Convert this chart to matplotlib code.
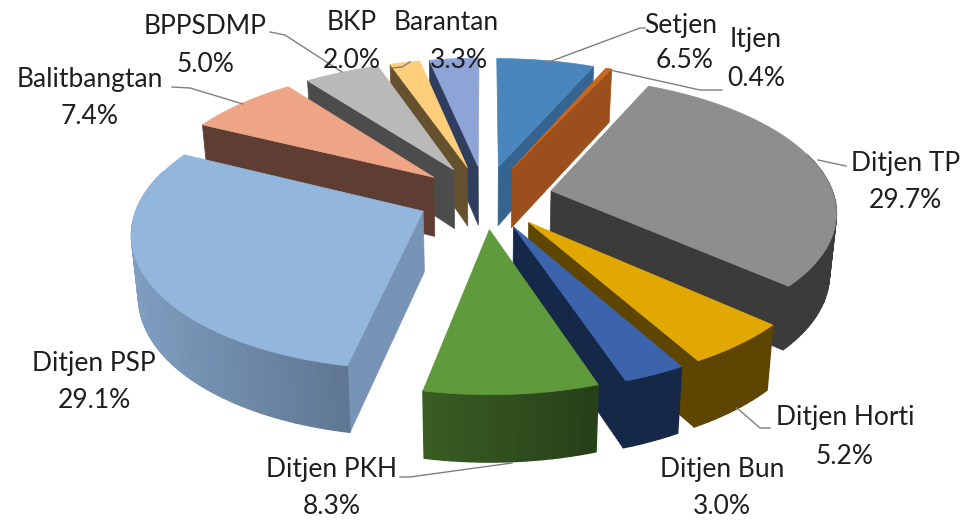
import numpy as np
import matplotlib
matplotlib.use("Agg")
import matplotlib.pyplot as plt
from matplotlib.colors import to_rgb
from matplotlib.patches import Polygon

names = ["Setjen", "Itjen", "Ditjen TP", "Ditjen Horti", "Ditjen Bun", "Ditjen PKH",
         "Ditjen PSP", "Balitbangtan", "BPPSDMP", "BKP", "Barantan"]
values = [6.5, 0.4, 29.7, 5.2, 3.0, 8.3, 29.1, 7.4, 5.0, 2.0, 3.3]

top_colors = ["#4A86BC", "#C8661E", "#8E8E8E", "#E0A800", "#3B64AD", "#5F9A3C",
              "#93B6DC", "#EEA585", "#B9B9B9", "#FFCE7A", "#8EA3D6"]
radial_colors = ["#34648F", "#9A4F1C", "#3B3B3B", "#5E4600", "#152847", "#3A5E22",
                 "#7793B5", "#5E3E32", "#4C4C4C", "#66512F", "#2F3E5E"]
outer_left = ["#34648F", "#9A4F1C", "#3B3B3B", "#5E4600", "#152847", "#28401A",
              "#5F7792", "#5E3E32", "#4C4C4C", "#66512F", "#2F3E5E"]
outer_right = ["#34648F", "#9A4F1C", "#3B3B3B", "#5E4600", "#152847", "#3A5E22",
               "#7F9EC0", "#5E3E32", "#4C4C4C", "#66512F", "#2F3E5E"]

# name label centre, value label centre
name_pos = [(681, 25), (756, 40), (906, 163), (845, 418), (722, 469), (332, 469),
            (94, 363), (90, 80), (205, 27), (352, 22), (446, 22)]
value_pos = [(685, 60), (756, 78), (905, 200), (845, 456), (722, 507), (332, 506),
             (94, 401), (90, 117), (205, 64), (352, 60), (459, 60)]
leaders = [[(546, 63), (640, 28), (645, 28)],
           [(610, 70), (700, 90), (722, 90)],
           [(818, 160), (846, 166)],
           [(737, 408), (760, 428), (770, 428)],
           [(512, 463), (410, 477), (400, 477)],
           [],
           [(243, 104), (190, 88), (172, 87)],
           [(342, 72), (285, 35), (270, 32)],
           [(392, 68), (402, 67), (410, 62)],
           []]

CX, CY, RX, RY, K, EXPLODE, DEPTH = 485, 197, 283, 131.6, 0.141, 0.24, 60


def project(u, v):
    s = 1 / (1 + K * v)
    return CX + RX * u * s, CY - RY * v * s


def lower(x, y, v):
    d = DEPTH * (1 - 0.1 * v)
    return CX + (x - CX) * 0.98, y + d


fig = plt.figure(figsize=(9.63, 5.21), dpi=100)
ax = fig.add_axes([0, 0, 1, 1])
ax.set_xlim(0, 963)
ax.set_ylim(521, 0)
ax.axis("off")

edges = np.concatenate([[0], np.cumsum(values)]) / np.sum(values) * 2 * np.pi
mids = (edges[:-1] + edges[1:]) / 2
order = np.argsort(-np.cos(mids))

for i in order:
    t0, t1 = edges[i], edges[i + 1]
    du, dv = EXPLODE * np.sin(mids[i]), EXPLODE * np.cos(mids[i])
    ts = np.linspace(t0, t1, max(6, int((t1 - t0) * 40)))
    us, vs = du + np.sin(ts), dv + np.cos(ts)
    xs, ys = project(us, vs)
    bx, by = lower(xs, ys, vs)
    ax_, ay_ = project(du, dv)
    abx, aby = lower(ax_, ay_, dv)

    def radial(px, py, pbx, pby):
        ax.add_patch(Polygon([(ax_, ay_), (px, py), (pbx, pby), (abx, aby)],
                             fc=radial_colors[i], ec=radial_colors[i], lw=0.5))

    if t0 > np.pi:
        radial(xs[0], ys[0], bx[0], by[0])
    if t1 < np.pi:
        radial(xs[-1], ys[-1], bx[-1], by[-1])

    c0, c1 = np.array(to_rgb(outer_left[i])), np.array(to_rgb(outer_right[i]))
    xmin, xmax = xs.min(), xs.max()
    for j in range(len(ts) - 1):
        if np.cos((ts[j] + ts[j + 1]) / 2) < 0.3:
            f = (xs[j] - xmin) / max(xmax - xmin, 1)
            col = c0 * f + c1 * (1 - f)
            ax.add_patch(Polygon([(xs[j], ys[j]), (xs[j + 1], ys[j + 1]),
                                  (bx[j + 1], by[j + 1]), (bx[j], by[j])],
                                 fc=col, ec=col, lw=1.0))

    pts = [(ax_, ay_)] + list(zip(xs, ys))
    ax.add_patch(Polygon(pts, fc=top_colors[i], ec=top_colors[i], lw=0.5))

for path in leaders:
    if path:
        p = np.array(path)
        ax.plot(p[:, 0], p[:, 1], color="#7F7F7F", lw=1.0, zorder=5)

font = "Lato"
for n, v, (nx, ny), (vx, vy) in zip(names, values, name_pos, value_pos):
    ax.text(nx, ny, n, ha="center", va="center", fontsize=19, family=font, color="#1E1E1E", zorder=6)
    ax.text(vx, vy, f"{v:.1f}%", ha="center", va="center", fontsize=19, family=font, color="#1E1E1E", zorder=6)

fig.savefig("out.png", dpi=100)
